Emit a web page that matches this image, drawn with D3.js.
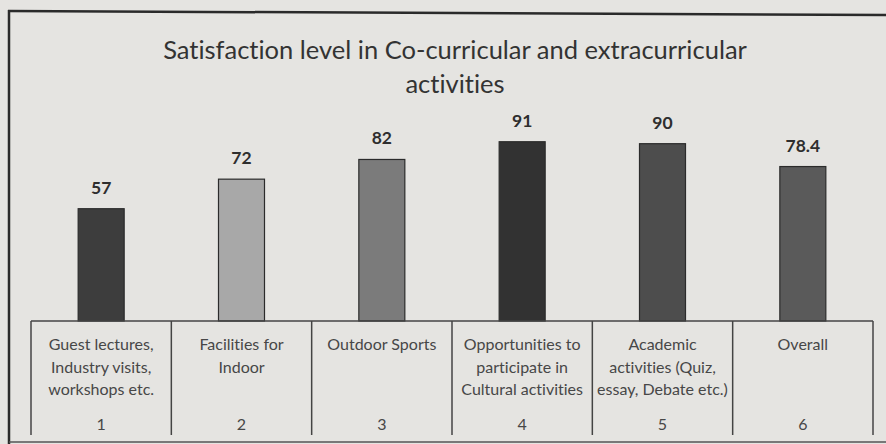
<!DOCTYPE html>
<html>
<head>
<meta charset="utf-8">
<script src="https://cdn.jsdelivr.net/npm/d3@7"></script>
<style>
  html, body { margin: 0; padding: 0; background: #e5e4e1; }
  svg { display: block; }
  text { font-variant-ligatures: none; }
</style>
</head>
<body>
<svg id="chart" width="886" height="444"></svg>
<script>
// ---- data ----
const categories = [
  ["Guest lectures,", "Industry visits,", "workshops etc."],
  ["Facilities for", "Indoor"],
  ["Outdoor Sports"],
  ["Opportunities to", "participate in", "Cultural activities"],
  ["Academic", "activities (Quiz,", "essay, Debate etc.)"],
  ["Overall"]
];
const tickLabels = ["1", "2", "3", "4", "5", "6"];
const values = [57, 72, 82, 91, 90, 78.4];
const valueLabels = ["57", "72", "82", "91", "90", "78.4"];
const barColors = ["#3d3d3d", "#a8a8a8", "#7b7b7b", "#323232", "#4d4d4d", "#5a5a5a"];
const titleLines = ["Satisfaction level in Co-curricular and extracurricular", "activities"];

// ---- layout ----
const svg = d3.select("#chart");
const W = 886, H = 444;
const tableLeft = 31, tableRight = 873, baseY = 321, tableBottom = 435;

const x = d3.scaleBand().domain(tickLabels).range([tableLeft, tableRight]).paddingInner(0).paddingOuter(0);
const y = d3.scaleLinear().domain([0, 100]).range([baseY, 124]);
const barW = 46;

// outer frame
svg.append("line").attr("x1", 8).attr("x2", W).attr("y1", 11).attr("y2", 15)
  .attr("stroke", "#2a2a2a").attr("stroke-width", 2.5);
svg.append("line").attr("x1", 9).attr("x2", 9).attr("y1", 10).attr("y2", H)
  .attr("stroke", "#2a2a2a").attr("stroke-width", 2.5);
svg.append("line").attr("x1", 9).attr("x2", W).attr("y1", 442).attr("y2", 442)
  .attr("stroke", "#555").attr("stroke-width", 1.5);

// title
svg.append("text")
  .attr("x", 455).attr("y", 59)
  .attr("text-anchor", "middle")
  .attr("font-family", "Lato, 'Open Sans', sans-serif")
  .attr("font-size", 25.5)
  .attr("fill", "#333")
  .selectAll("tspan").data(titleLines).join("tspan")
  .attr("x", 455).attr("dy", (d, i) => i === 0 ? 0 : 34)
  .text(d => d);

// bars
const g = svg.append("g");
g.selectAll("rect.bar").data(values).join("rect")
  .attr("class", "bar")
  .attr("x", (d, i) => x(tickLabels[i]) + x.bandwidth() / 2 - barW / 2)
  .attr("y", d => y(d))
  .attr("width", barW)
  .attr("height", d => y(0) - y(d))
  .attr("fill", (d, i) => barColors[i])
  .attr("stroke", "#2b2b2b")
  .attr("stroke-width", 1.2);

// value labels
g.selectAll("text.val").data(values).join("text")
  .attr("class", "val")
  .attr("x", (d, i) => x(tickLabels[i]) + x.bandwidth() / 2)
  .attr("y", d => y(d) - 15)
  .attr("text-anchor", "middle")
  .attr("font-family", "Lato, 'Open Sans', sans-serif")
  .attr("font-weight", "bold")
  .attr("font-size", 17.5)
  .attr("fill", "#2e2e2e")
  .text((d, i) => valueLabels[i]);

// table (category axis)
const tbl = svg.append("g");
tbl.append("line").attr("x1", tableLeft).attr("x2", tableRight).attr("y1", baseY).attr("y2", baseY)
  .attr("stroke", "#444").attr("stroke-width", 1.5);
const edges = tickLabels.map(t => x(t)).concat([tableRight]);
tbl.selectAll("line.div").data(edges).join("line")
  .attr("class", "div")
  .attr("x1", d => d).attr("x2", d => d)
  .attr("y1", baseY).attr("y2", tableBottom)
  .attr("stroke", "#444").attr("stroke-width", 1.5);

const cells = tbl.selectAll("g.cell").data(tickLabels).join("g")
  .attr("class", "cell")
  .attr("transform", d => `translate(${x(d) + x.bandwidth() / 2},0)`);
cells.append("text")
  .attr("text-anchor", "middle")
  .attr("font-family", "Lato, 'Open Sans', sans-serif")
  .attr("font-size", 16)
  .attr("fill", "#474747")
  .selectAll("tspan").data((d, i) => categories[i]).join("tspan")
  .attr("x", 0)
  .attr("y", (d, i) => 350 + i * 22.5)
  .text(d => d);
cells.append("text")
  .attr("text-anchor", "middle")
  .attr("y", 430)
  .attr("font-family", "Lato, 'Open Sans', sans-serif")
  .attr("font-size", 16)
  .attr("fill", "#474747")
  .text(d => d);
</script>
</body>
</html>
